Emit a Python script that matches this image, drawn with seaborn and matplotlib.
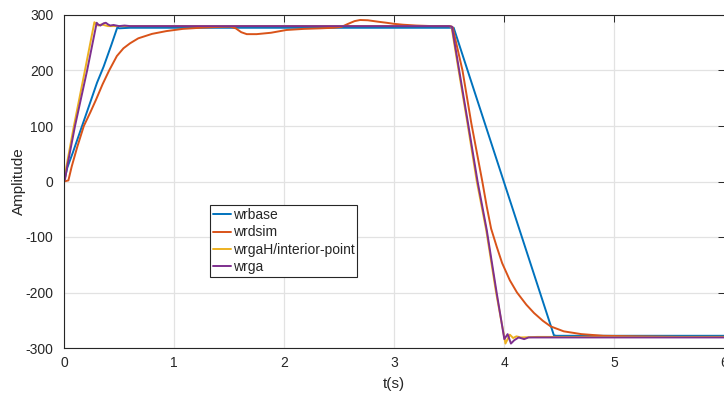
import matplotlib
matplotlib.use("Agg")
import matplotlib.pyplot as plt
import pandas as pd
import seaborn as sns

# Speed traces (time in s, speed value)
t_wrbase = [0.0, 0.01, 0.03, 0.08, 0.15, 0.22, 0.30, 0.36, 0.43, 0.485, 0.50, 0.60,
            1.0, 2.0, 3.0, 3.50, 3.54, 4.45, 4.47, 5.0, 6.0]
w_wrbase = [0, 8, 25, 52, 92, 132, 178, 207, 246, 278, 276, 277,
            277, 277, 277, 277, 277, -277, -278, -278, -278]

t_wrdsim = [0.0, 0.04, 0.07, 0.12, 0.18, 0.24, 0.29, 0.35, 0.41, 0.48, 0.54, 0.60,
            0.675, 0.80, 0.93, 1.08, 1.24, 1.40, 1.51, 1.56, 1.61, 1.66, 1.75, 1.88,
            2.02, 2.18, 2.33, 2.45, 2.52, 2.58, 2.64, 2.69, 2.76, 2.85, 2.93, 3.00,
            3.08, 3.20, 3.35, 3.50, 3.53, 3.62, 3.70, 3.80, 3.84, 3.88, 3.93, 3.98,
            4.05, 4.115, 4.20, 4.27, 4.35, 4.42, 4.54, 4.70, 4.90, 5.20, 5.60, 6.0]
w_wrdsim = [0, 2, 27, 62, 100, 125, 147, 175, 200, 226, 240, 249,
            258, 266, 271, 275, 277, 278.5, 279, 276, 269, 265.5, 265.5, 268,
            273, 275, 276, 277, 278.5, 284, 289, 291, 290.5, 288, 286, 284,
            282.5, 281, 280, 280, 278, 200, 105, 0, -45, -85, -117, -147,
            -178, -200, -222, -237, -251, -261, -270, -275, -278, -279, -280, -280]

t_wrgaH = [0.0, 0.01, 0.02, 0.09, 0.19, 0.276, 0.29, 0.31, 0.34, 0.40, 0.60,
           3.50, 3.52, 3.585, 3.665, 3.75, 3.835, 3.925, 4.01, 4.05, 4.08,
           4.11, 4.15, 4.30, 6.0]
w_wrgaH = [0, 8, 25, 100, 200, 287, 284, 281, 283, 280, 280,
           280, 279, 200, 105, 0, -87, -200, -292, -276, -282,
           -279, -281, -280, -280]

t_wrga = [0.0, 0.01, 0.03, 0.10, 0.21, 0.297, 0.31, 0.33, 0.36, 0.38, 0.40,
          0.42, 0.45, 0.50, 0.55, 0.60, 1.0, 2.0, 3.0, 3.50, 3.524, 3.59, 3.67,
          3.757, 3.84, 3.93, 4.00, 4.03, 4.06, 4.09, 4.13, 4.18, 4.22, 4.30,
          5.0, 6.0]
w_wrga = [0, 5, 28, 100, 200, 286, 283, 281, 285, 286, 283,
          281, 282, 280, 281, 280, 280, 280, 280, 280, 279, 200, 105,
          0, -87, -200, -284, -275, -292, -286, -281, -284, -281, -281,
          -281, -281]

labels = ["wrbase", "wrdsim", "wrgaH/interior-point", "wrga"]
colors = ["#0072BD", "#D95319", "#EDB120", "#7E2F8E"]
traces = [(t_wrbase, w_wrbase), (t_wrdsim, w_wrdsim),
          (t_wrgaH, w_wrgaH), (t_wrga, w_wrga)]

df = pd.concat(
    [pd.DataFrame({"t": t, "w": w, "signal": name})
     for name, (t, w) in zip(labels, traces)],
    ignore_index=True,
)

x_ticks = [0, 1, 2, 3, 4, 5, 6]
y_ticks = [-300, -200, -100, 0, 100, 200, 300]

sns.set_theme(style="white")
plt.rcParams["font.family"] = ["Liberation Sans", "DejaVu Sans"]

fig = plt.figure(figsize=(7.24, 3.94), dpi=100)
ax = fig.add_axes([64 / 724, 46 / 394, 660.5 / 724, 333 / 394])

sns.lineplot(data=df, x="t", y="w", hue="signal", hue_order=labels,
             palette=dict(zip(labels, colors)), estimator=None, sort=False,
             linewidth=1.4, ax=ax)

ax.set_xlim(0, 6)
ax.set_ylim(-300, 300)
ax.set_xticks(x_ticks)
ax.set_xticklabels([str(v) for v in x_ticks])
ax.set_yticks(y_ticks)
ax.set_yticklabels([str(v) for v in y_ticks])

ax.grid(True, color="#e2e2e2", linewidth=0.9)
ax.set_axisbelow(True)
for side in ["left", "bottom", "top", "right"]:
    ax.spines[side].set_color("#262626")
    ax.spines[side].set_linewidth(0.8)

ax.tick_params(axis="both", direction="in", top=True, right=True,
               length=4.8, width=0.7, color="#262626",
               labelcolor="#262626", labelsize=10)
ax.tick_params(axis="x", pad=5.5)
ax.tick_params(axis="y", pad=7.5)

ax.set_xlabel("t(s)", fontsize=11, color="#262626")
ax.set_ylabel("Amplitude", fontsize=11, color="#262626")
ax.xaxis.set_label_coords(0.5, -0.086)
ax.yaxis.set_label_coords(-0.058, 0.5)

handles, _ = ax.get_legend_handles_labels()
leg = ax.legend(handles, labels, loc="upper left",
                bbox_to_anchor=(0.221, 0.429), frameon=True, fancybox=False,
                edgecolor="#262626", framealpha=1, fontsize=10,
                handlelength=1.3, handletextpad=0.15, labelspacing=0.25,
                borderpad=0.2, borderaxespad=0)
leg.get_frame().set_linewidth(0.8)
for txt in leg.get_texts():
    txt.set_color("#262626")

fig.savefig("out.png", dpi=100)
